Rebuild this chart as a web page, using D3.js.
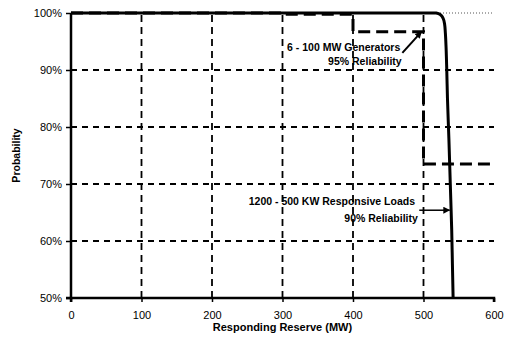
<!DOCTYPE html>
<html><head><meta charset="utf-8">
<script src="https://cdn.jsdelivr.net/npm/d3@7"></script>
<style>body{margin:0;background:#fff}svg{display:block}text{font-family:"Liberation Sans",Arial,sans-serif}</style>
</head><body><svg id="c" width="510" height="345"></svg>
<script>
// Data
const xTicks = [0, 100, 200, 300, 400, 500, 600];
const yTicks = [0.5, 0.6, 0.7, 0.8, 0.9, 1.0];
// Responsive loads curve (MW, probability)
const loadMW =   [0, 518, 524, 528, 530, 531, 532, 533, 534, 536, 538, 540, 541, 542];
const loadProb = [1.0, 1.0, 0.997, 0.99, 0.98, 0.965, 0.94, 0.90, 0.85, 0.78, 0.70, 0.62, 0.56, 0.50];
// Generators step (MW, probability of at least that reserve)
const genMW =   [0, 100, 200, 300, 400, 500, 600];
const genProb = [1.0, 1.0, 1.0, 0.9999, 0.9978, 0.967, 0.735];
const genLabel = ["6 - 100 MW Generators", "95% Reliability"];
const loadLabel = ["1200 - 500 KW Responsive Loads", "90% Reliability"];

const W = 510, H = 345, m = {l: 71, r: 16, t: 13, b: 47};
const svg = d3.select("#c");
const x = d3.scaleLinear().domain([0, 600]).range([m.l, W - m.r]);
const y = d3.scaleLinear().domain([0.5, 1.0]).range([H - m.b, m.t]);

svg.append("defs").append("marker").attr("id", "ah").attr("viewBox", "0 0 10 10")
  .attr("refX", 9).attr("refY", 5).attr("markerWidth", 7).attr("markerHeight", 7)
  .attr("orient", "auto").attr("markerUnits", "userSpaceOnUse")
  .append("path").attr("d", "M0,0L10,5L0,10z").attr("fill", "#000");

// top dotted line
svg.append("line").attr("x1", x(0)).attr("x2", x(600)).attr("y1", y(1)).attr("y2", y(1))
  .attr("stroke", "#555").attr("stroke-width", 1).attr("stroke-dasharray", "1,2");

// gridlines
const g = svg.append("g");
g.selectAll(".hg").data(yTicks.filter(d => d > 0.5 && d < 1)).join("line")
  .attr("x1", x(0)).attr("x2", x(600)).attr("y1", d => y(d)).attr("y2", d => y(d))
  .attr("stroke", "#000").attr("stroke-width", 2.2).attr("stroke-dasharray", "6,5");
g.selectAll(".vg").data(xTicks.filter(d => d > 0 && d < 600)).join("line")
  .attr("y1", y(0.5)).attr("y2", y(1)).attr("x1", d => x(d)).attr("x2", d => x(d))
  .attr("stroke", "#000").attr("stroke-width", 1.8).attr("stroke-dasharray", "7,5");

// axes
const xa = svg.append("g").attr("transform", `translate(0,${y(0.5)})`)
  .call(d3.axisBottom(x).tickValues(xTicks).tickSize(4).tickPadding(9).tickFormat(d3.format("d")));
const ya = svg.append("g").attr("transform", `translate(${x(0)},0)`)
  .call(d3.axisLeft(y).tickValues(yTicks).tickSize(5).tickPadding(4).tickFormat(d3.format(".0%")));
[xa, ya].forEach(a => {
  a.select(".domain").attr("stroke", "#000").attr("stroke-width", 2.5);
  a.selectAll(".tick line").attr("stroke", "#000").attr("stroke-width", 1.5);
  a.selectAll(".tick text").attr("font-size", 11).attr("fill", "#000")
    .attr("font-family", "'Liberation Sans',Arial,sans-serif");
});
ya.select(".domain").attr("d", `M-5,${y(0.5)}H0V${y(1)}`);
xa.select(".domain").attr("d", `M${x(0)},4V0H${x(600)}V4`);

// generator step line
const genData = genMW.map((d, i) => [d, genProb[i]]);
svg.append("path").datum(genData)
  .attr("d", d3.line().x(d => x(d[0])).y(d => y(d[1])).curve(d3.curveStepBefore))
  .attr("fill", "none").attr("stroke", "#000").attr("stroke-width", 3).attr("stroke-dasharray", "12,6");

// loads curve
const loadData = loadMW.map((d, i) => [d, loadProb[i]]);
svg.append("path").datum(loadData)
  .attr("d", d3.line().x(d => x(d[0])).y(d => y(d[1])).curve(d3.curveMonotoneY))
  .attr("fill", "none").attr("stroke", "#000").attr("stroke-width", 3);

// annotations
const ann = svg.append("g").attr("font-size", 10.5).attr("font-weight", "bold").attr("text-anchor", "end");
ann.append("text").attr("x", x(467)).attr("y", y(0.933)).text(genLabel[0]);
ann.append("text").attr("x", x(469)).attr("y", y(0.909)).text(genLabel[1]);
svg.append("line").attr("x1", x(470)).attr("y1", y(0.930)).attr("x2", x(497)).attr("y2", y(0.967))
  .attr("stroke", "#000").attr("stroke-width", 2).attr("marker-end", "url(#ah)");
ann.append("text").attr("x", x(488)).attr("y", y(0.663)).text(loadLabel[0]);
ann.append("text").attr("x", x(492)).attr("y", y(0.633)).text(loadLabel[1]);
svg.append("line").attr("x1", x(494)).attr("y1", y(0.654)).attr("x2", x(537)).attr("y2", y(0.654))
  .attr("stroke", "#000").attr("stroke-width", 1.5).attr("marker-end", "url(#ah)");

// axis titles
svg.append("text").attr("x", x(300)).attr("y", 331).attr("text-anchor", "middle")
  .attr("font-size", 11).attr("font-weight", "bold").text("Responding Reserve (MW)");
svg.append("text").attr("transform", `translate(20,${y(0.75)}) rotate(-90)`).attr("text-anchor", "middle")
  .attr("font-size", 10.5).attr("font-weight", "bold").text("Probability");
</script></body></html>
